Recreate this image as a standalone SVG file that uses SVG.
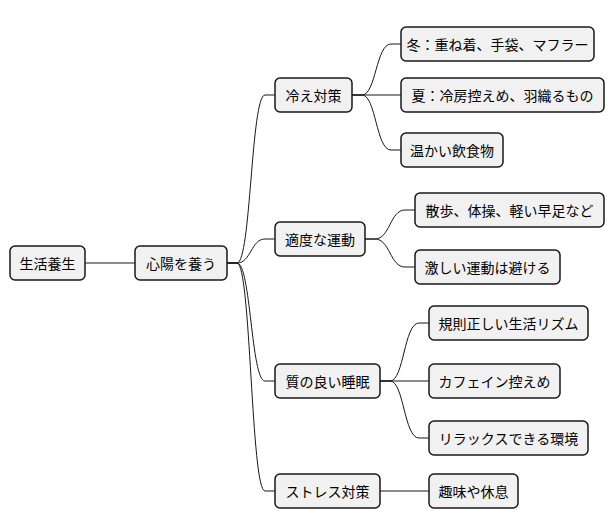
<svg xmlns="http://www.w3.org/2000/svg" width="614" height="527" viewBox="0 0 614 527">
<style>
rect{fill:#f1f1f1;stroke:#181818;stroke-width:1.5}
text{font-family:"Noto Sans CJK JP",sans-serif;font-size:14px;fill:#000;dominant-baseline:central}
#c path{fill:none;stroke:#181818;stroke-width:1}
</style>
<g id="c">
<path d="M85,263H135"/>
<path d="M227,263h10C251,263 251,95 265,95h10"/>
<path d="M227,263h10C251,263 251,239 265,239h10"/>
<path d="M227,263h10C251,263 251,381 265,381h10"/>
<path d="M227,263h10C251,263 251,491 265,491h10"/>
<path d="M352,95h10C376,95 376,44 391,44h10"/>
<path d="M352,95h39h10"/>
<path d="M352,95h10C376,95 376,150 391,150h10"/>
<path d="M365,239h10C390,239 390,210 405,210h10"/>
<path d="M365,239h10C390,239 390,267 405,267h10"/>
<path d="M380,381h10C404,381 404,323 419,323h10"/>
<path d="M380,381h49"/>
<path d="M380,381h10C404,381 404,438 419,438h10"/>
<path d="M380,491h49"/>
</g>
<g id="n0"><rect x="10" y="246" width="75" height="34" rx="5"/><text x="47.5" y="263" text-anchor="middle">生活養生</text></g>
<g id="n1"><rect x="135" y="246" width="92" height="34" rx="5"/><text x="181" y="263" text-anchor="middle">心陽を養う</text></g>
<g id="n2"><rect x="275" y="78" width="77" height="34" rx="5"/><text x="313.5" y="95" text-anchor="middle">冷え対策</text></g>
<g id="n3"><rect x="275" y="222" width="90" height="34" rx="5"/><text x="320" y="239" text-anchor="middle">適度な運動</text></g>
<g id="n4"><rect x="275" y="364" width="105" height="34" rx="5"/><text x="327.5" y="381" text-anchor="middle">質の良い睡眠</text></g>
<g id="n5"><rect x="275" y="474" width="105" height="34" rx="5"/><text x="327.5" y="491" text-anchor="middle">ストレス対策</text></g>
<g id="n6"><rect x="401" y="27" width="193" height="34" rx="5"/><text x="497.5" y="44" text-anchor="middle">冬：重ね着、手袋、マフラー</text></g>
<g id="n7"><rect x="401" y="78" width="203" height="34" rx="5"/><text x="502.5" y="95" text-anchor="middle">夏：冷房控えめ、羽織るもの</text></g>
<g id="n8"><rect x="401" y="133" width="102" height="34" rx="5"/><text x="452" y="150" text-anchor="middle">温かい飲食物</text></g>
<g id="n9"><rect x="415" y="193" width="189" height="34" rx="5"/><text x="509.5" y="210" text-anchor="middle">散歩、体操、軽い早足など</text></g>
<g id="n10"><rect x="415" y="250" width="145" height="34" rx="5"/><text x="487.5" y="267" text-anchor="middle">激しい運動は避ける</text></g>
<g id="n11"><rect x="429" y="306" width="159" height="34" rx="5"/><text x="508.5" y="323" text-anchor="middle">規則正しい生活リズム</text></g>
<g id="n12"><rect x="429" y="364" width="131" height="34" rx="5"/><text x="494.5" y="381" text-anchor="middle">カフェイン控えめ</text></g>
<g id="n13"><rect x="429" y="421" width="159" height="34" rx="5"/><text x="508.5" y="438" text-anchor="middle">リラックスできる環境</text></g>
<g id="n14"><rect x="429" y="474" width="89" height="34" rx="5"/><text x="473.5" y="491" text-anchor="middle">趣味や休息</text></g>
</svg>
